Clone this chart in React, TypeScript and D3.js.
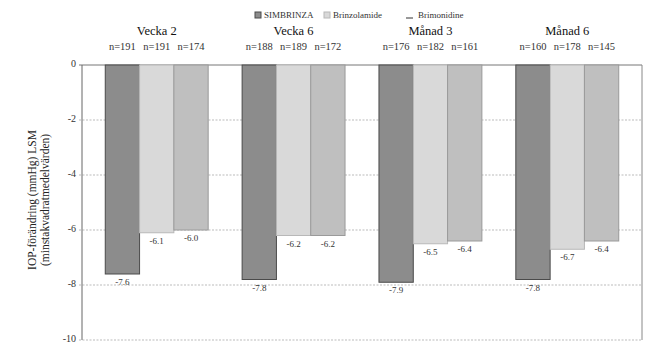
import * as d3 from "d3";

const groups = ["Vecka 2", "Vecka 6", "Månad 3", "Månad 6"];
const series = ["SIMBRINZA", "Brinzolamide", "Brimonidine"];
const simbrinza = [-7.6, -7.8, -7.9, -7.8];
const brinzolamide = [-6.1, -6.2, -6.5, -6.7];
const brimonidine = [-6.0, -6.2, -6.4, -6.4];
const nSimbrinza = [191, 188, 176, 160];
const nBrinzolamide = [191, 189, 182, 178];
const nBrimonidine = [174, 172, 161, 145];
const yTicks = [0, -2, -4, -6, -8, -10];

const fills = ["#8c8c8c", "#d9d9d9", "#bfbfbf"];
const strokes = ["#4a4a4a", "#b8b8b8", "#9a9a9a"];

export default function App() {
  const width = 662;
  const height = 351;
  const margin = { top: 65, right: 20, bottom: 11, left: 82 };
  const font = "Liberation Serif, Times New Roman, Times, serif";

  const values = [simbrinza, brinzolamide, brimonidine];
  const counts = [nSimbrinza, nBrinzolamide, nBrimonidine];

  const x0 = d3
    .scaleBand()
    .domain(groups)
    .range([margin.left, width - margin.right])
    .paddingInner(0.248)
    .paddingOuter(0.17);

  const x1 = d3.scaleBand().domain(series).range([0, x0.bandwidth()]);

  const y = d3
    .scaleLinear()
    .domain([0, -10])
    .range([margin.top, height - margin.bottom]);

  const left = margin.left;
  const right = width - margin.right;

  return (
    <svg
      width={width}
      height={height}
      style={{ position: "absolute", left: 0, top: 0, fontFamily: font }}
    >
      <rect width={width} height={height} fill="white" />
      {/* grid */}
      {yTicks.slice(1).map((t) => (
        <line
          key={t}
          x1={left - 3}
          x2={right}
          y1={y(t)}
          y2={y(t)}
          stroke="#aaa"
          strokeWidth={0.8}
          strokeDasharray="2,1.5"
        />
      ))}
      {/* frame */}
      <line x1={left - 3} x2={right} y1={y(0)} y2={y(0)} stroke="#777" />
      <line x1={left} x2={left} y1={y(0)} y2={y(-10)} stroke="#666" />
      <line x1={right} x2={right} y1={y(0)} y2={y(-10)} stroke="#888" />
      {yTicks.map((t) => (
        <text
          key={t}
          x={left - 6}
          y={y(t)}
          textAnchor="end"
          dominantBaseline="middle"
          fontSize={10}
          fill="#333"
        >
          {t}
        </text>
      ))}
      {/* bars */}
      {groups.map((g, gi) => (
        <g key={g} transform={`translate(${x0(g)},0)`}>
          {series.map((s, si) => {
            const v = values[si][gi];
            const bx = x1(s)!;
            return (
              <g key={s}>
                <rect
                  x={bx}
                  y={y(0)}
                  width={x1.bandwidth()}
                  height={y(v) - y(0)}
                  fill={fills[si]}
                  stroke={strokes[si]}
                  strokeWidth={1}
                />
                <text
                  x={bx + x1.bandwidth() / 2}
                  y={y(v) + 9}
                  textAnchor="middle"
                  dominantBaseline="middle"
                  fontSize={9}
                  fill="#333"
                >
                  {v.toFixed(1)}
                </text>
                <text
                  x={bx + x1.bandwidth() / 2}
                  y={50}
                  textAnchor="middle"
                  fontSize={10.5}
                  fill="#333"
                >
                  n={counts[si][gi]}
                </text>
              </g>
            );
          })}
          <text
            x={x0.bandwidth() / 2}
            y={35}
            textAnchor="middle"
            fontSize={12.5}
            fill="#111"
          >
            {g}
          </text>
        </g>
      ))}
      {/* y title */}
      <g transform="translate(36,200) rotate(-90)">
        <text textAnchor="middle" fontSize={11.5} fill="#222">
          IOP-förändring (mmHg) LSM
        </text>
        <text y={13} textAnchor="middle" fontSize={11.5} fill="#222">
          (minstakvadratmedelvärden)
        </text>
      </g>
      {/* legend */}
      <g fontSize={9} fill="#333">
        <rect x={255} y={12} width={6} height={6} fill={fills[0]} stroke={strokes[0]} />
        <text x={264} y={18}>{series[0]}</text>
        <rect x={324} y={12} width={6} height={6} fill={fills[1]} stroke={strokes[1]} />
        <text x={333} y={18}>{series[1]}</text>
        <line x1={406} x2={413} y1={18} y2={18} stroke="#333" />
        <text x={418} y={18}>{series[2]}</text>
      </g>
    </svg>
  );
}
